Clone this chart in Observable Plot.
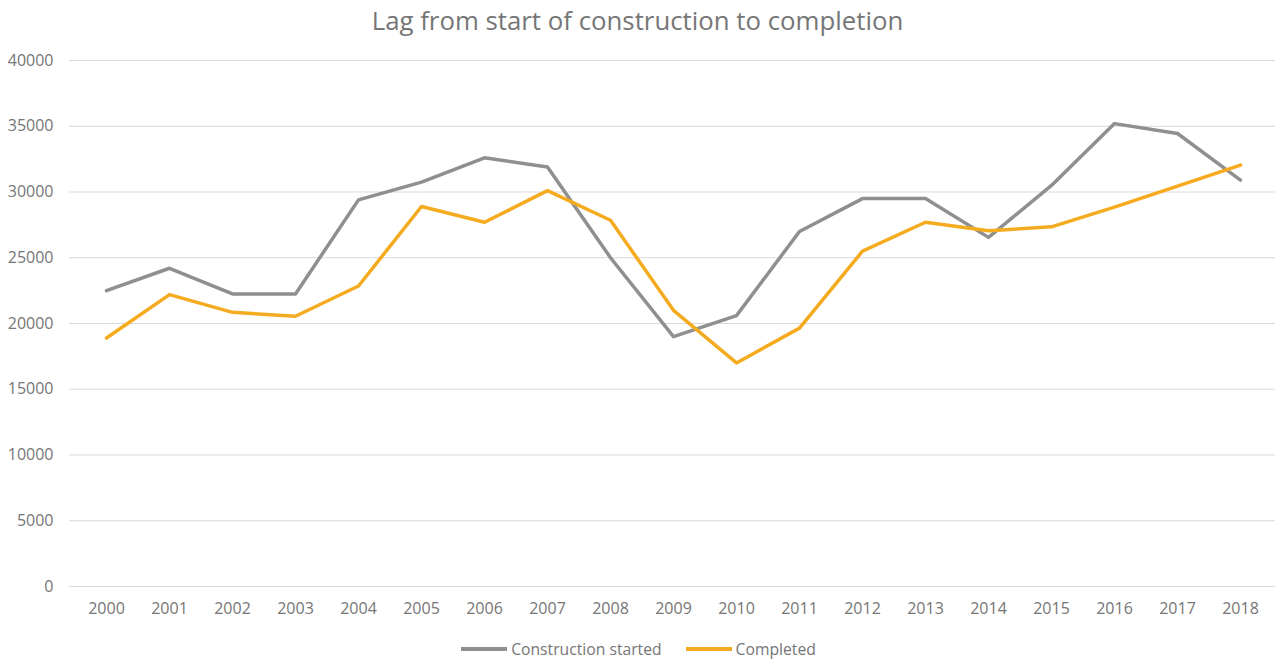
<!DOCTYPE html>
<html>
<head>
<meta charset="utf-8">
<script src="https://cdn.jsdelivr.net/npm/d3@7"></script>
<script src="https://cdn.jsdelivr.net/npm/@observablehq/plot@0.6"></script>
<style>
  body { margin: 0; background: #fff; font-family: "Open Sans", sans-serif; }
  #title { height: 40px; line-height: 40px; text-align: center; font-size: 25.8px; color: #767676; }
  #legend { display: flex; justify-content: center; align-items: center; height: 38px; font-size: 15.7px; color: #767676; gap: 24px; padding-left: 2px; }
  .sw { display: inline-block; width: 46px; height: 4px; margin-right: 4px; vertical-align: middle; }
  .item { display: flex; align-items: center; }
</style>
</head>
<body>
<div id="title">Lag from start of construction to completion</div>
<div id="chart"></div>
<div id="legend"></div>
<script>
const years = ["2000","2001","2002","2003","2004","2005","2006","2007","2008","2009","2010","2011","2012","2013","2014","2015","2016","2017","2018"];
const started = [22500,24200,22250,22250,29400,30750,32600,31900,25000,19000,20600,27000,29500,29500,26550,30500,35200,34450,30900];
const completed = [18900,22200,20850,20550,22850,28900,27700,30100,27850,21000,17000,19650,25500,27700,27050,27350,28850,30450,32050];
const seriesNames = ["Construction started", "Completed"];
const seriesColors = ["#8f8f8f", "#f5ab1f"];
const yTicks = [0,5000,10000,15000,20000,25000,30000,35000,40000];

const rows = [];
years.forEach((y, i) => {
  rows.push({year: y, value: started[i], series: seriesNames[0]});
  rows.push({year: y, value: completed[i], series: seriesNames[1]});
});

const chart = Plot.plot({
  width: 1275,
  height: 590,
  marginTop: 20,
  marginBottom: 44,
  marginLeft: 69,
  marginRight: 0,
  style: {fontFamily: "Open Sans, sans-serif", fontSize: "16px", color: "#767676", background: "#fff"},
  x: {type: "point", domain: years, padding: 0, range: [101, 1245], label: null},
  y: {domain: [0, 40000], label: null},
  color: {domain: seriesNames, range: seriesColors},
  marks: [
    Plot.gridY(yTicks, {stroke: "#d9d9d9", strokeOpacity: 1, strokeWidth: 1}),
    Plot.axisY(yTicks, {tickSize: 0, tickPadding: 16, tickFormat: d => String(d), label: null, fill: "#767676"}),
    Plot.axisX({tickSize: 0, tickPadding: 16, label: null, fill: "#767676"}),
    Plot.line(rows, {x: "year", y: "value", z: "series", stroke: "series", strokeWidth: 3.5, strokeLinejoin: "round", strokeLinecap: "round"})
  ]
});
document.getElementById("chart").appendChild(chart);

const legend = document.getElementById("legend");
seriesNames.forEach((n, i) => {
  const it = document.createElement("span");
  it.className = "item";
  const sw = document.createElement("span");
  sw.className = "sw";
  sw.style.background = seriesColors[i];
  it.appendChild(sw);
  it.appendChild(document.createTextNode(n));
  legend.appendChild(it);
});
</script>
</body>
</html>
